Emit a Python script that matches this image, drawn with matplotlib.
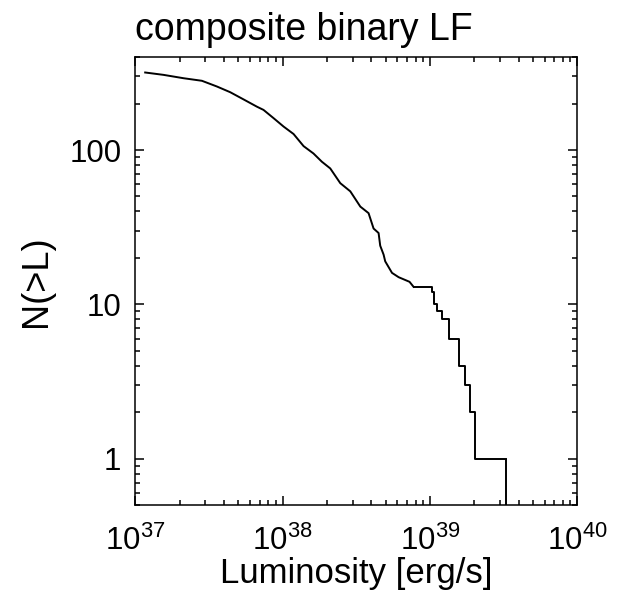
import numpy as np
import matplotlib
matplotlib.use("Agg")
import matplotlib.pyplot as plt

plt.rcParams['font.family'] = ['Liberation Sans', 'DejaVu Sans']
plt.rcParams['mathtext.fontset'] = 'custom'
plt.rcParams['mathtext.rm'] = 'Liberation Sans'
plt.rcParams['mathtext.it'] = 'Liberation Sans'

# smooth upper part of the cumulative LF (log10 L, N(>L))
logl_smooth = [37.068, 37.192, 37.328, 37.453, 37.555, 37.645, 37.735, 37.826,
               37.871, 37.939, 38.007, 38.075, 38.143, 38.210, 38.267, 38.324,
               38.392, 38.460, 38.528, 38.584, 38.618, 38.652, 38.663, 38.686,
               38.697, 38.743, 38.788, 38.862, 38.889]
n_smooth = [318, 307, 292, 281, 258, 237, 213, 191,
            182, 161, 142, 127, 106, 95, 84, 76,
            61, 54, 43, 39, 31, 29, 24, 21,
            19, 16, 15, 14, 13]

# bright end, drawn as steps
logl_steps = [38.889, 39.014, 39.025, 39.048, 39.082, 39.127, 39.195, 39.240,
              39.274, 39.308, 39.313, 39.517]
n_steps = [13, 12, 10, 9, 8, 6, 4, 3, 2, 1, 1, 1]

fig = plt.figure(figsize=(6.2, 5.95), dpi=100)
ax = fig.add_axes([0.218, 0.151, 0.713, 0.753])

ax.plot(10**np.array(logl_smooth), n_smooth, color='black', lw=1.4)
ax.step(10**np.array(logl_steps), n_steps, where='post', color='black', lw=1.4)
ax.vlines(10**logl_steps[-1], 0.3, n_steps[-1], color='black', lw=1.4)

ax.set_xscale('log')
ax.set_yscale('log')
ax.set_xlim(1e37, 1e40)
ax.set_ylim(0.5, 400)

ax.set_xticks([1e37, 1e38, 1e39, 1e40])
ax.set_xticklabels([r'$10^{37}$', r'$10^{38}$', r'$10^{39}$', r'$10^{40}$'])
ax.set_yticks([1, 10, 100])
ax.set_yticklabels(['1', '10', '100'])

ax.tick_params(which='both', direction='in', top=True, right=True, width=1.1)
ax.tick_params(which='major', length=6.5, labelsize=22.5)
ax.tick_params(axis='x', which='major', pad=15)
ax.tick_params(axis='y', which='major', pad=10)
ax.tick_params(which='minor', length=3.3)
for s in ax.spines.values():
    s.set_linewidth(1.1)

ax.set_xlabel('Luminosity [erg/s]', fontsize=25, labelpad=0)
ax.set_ylabel('N(>L)', fontsize=26, labelpad=11)
fig.suptitle('composite binary LF', fontsize=27, x=0.49, y=0.98)

fig.savefig('out.png', dpi=100)
